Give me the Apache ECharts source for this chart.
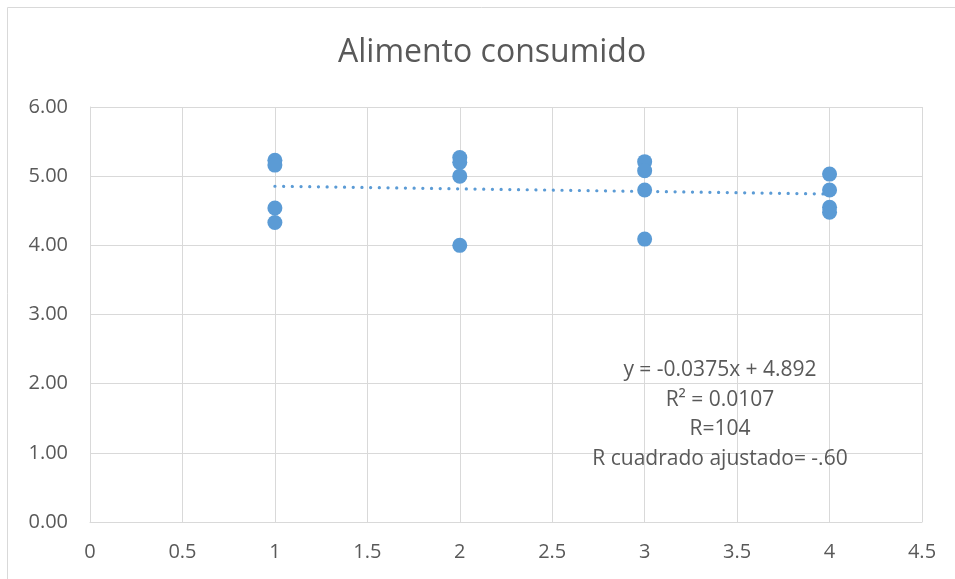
<!DOCTYPE html>
<html>
<head>
<meta charset="utf-8">
<script src="https://cdn.jsdelivr.net/npm/echarts@6/dist/echarts.min.js"></script>
<style>html,body{margin:0;padding:0;background:#fff}#c{width:955px;height:579px}</style>
</head>
<body>
<div id="c"></div>
<script>
var titleText = 'Alimento consumido';
var xValues = [1, 1, 1, 1, 2, 2, 2, 2, 3, 3, 3, 3, 4, 4, 4, 4];
var yValues = [5.23, 5.16, 4.54, 4.33, 5.27, 5.20, 5.00, 4.00, 5.21, 5.08, 4.80, 4.09, 5.03, 4.80, 4.55, 4.48];
var trendSlope = -0.0375;
var trendIntercept = 4.892;
var trendRange = [1, 4];
var xTicks = [0, 4.5, 0.5];
var yTicks = [0, 6, 1];
var noteLines = ['y = -0.0375x + 4.892', 'R\u00B2 = 0.0107', 'R=104', 'R cuadrado ajustado= -.60'];

var points = xValues.map(function (x, i) { return [x, yValues[i]]; });
var trend = trendRange.map(function (x) { return [x, trendSlope * x + trendIntercept]; });
var font = '"Open Sans", "Noto Sans", sans-serif';
var txt = '#595959';

var chart = echarts.init(document.getElementById('c'));
chart.setOption({
  animation: false,
  textStyle: { fontFamily: font },
  title: {
    text: titleText, left: 333, top: 32,
    textStyle: { fontFamily: font, fontSize: 32, fontWeight: 'normal', color: txt }
  },
  grid: { left: 90, right: 33, top: 107, bottom: 57, containLabel: false },
  xAxis: {
    type: 'value', min: xTicks[0], max: xTicks[1], interval: xTicks[2],
    axisLine: { show: true, lineStyle: { color: '#D9D9D9', width: 1 } },
    axisTick: { show: false },
    axisLabel: { color: txt, fontSize: 20, margin: 20, fontFamily: font },
    splitLine: { show: true, lineStyle: { color: '#D9D9D9', width: 1 } }
  },
  yAxis: {
    type: 'value', min: yTicks[0], max: yTicks[1], interval: yTicks[2],
    axisLine: { show: true, lineStyle: { color: '#D9D9D9', width: 1 } },
    axisTick: { show: false },
    axisLabel: { color: txt, fontSize: 20, margin: 22, fontFamily: font,
      formatter: function (v) { return v.toFixed(2); } },
    splitLine: { show: true, lineStyle: { color: '#D9D9D9', width: 1 } }
  },
  graphic: [
    { type: 'rect', shape: { x: 7.5, y: 7.5, width: 1000, height: 1000 },
      style: { fill: 'none', stroke: '#D9D9D9', lineWidth: 1 }, silent: true, z: -10 },
    { type: 'text', left: 720 - 150, top: 355, z: 100,
      style: { text: noteLines.join('\n'), width: 300, x: 150,
        font: '21px ' + font, fill: txt, lineHeight: 29.7, textAlign: 'center' } }
  ],
  series: [
    { type: 'line', data: trend, symbol: 'none', z: 1,
      lineStyle: { color: '#5B9BD5', width: 3.2, type: [0.1, 8.6], cap: 'round' } },
    { type: 'scatter', data: points, symbolSize: 15, z: 2,
      itemStyle: { color: '#5B9BD5', opacity: 1 } }
  ]
});
</script>
</body>
</html>
